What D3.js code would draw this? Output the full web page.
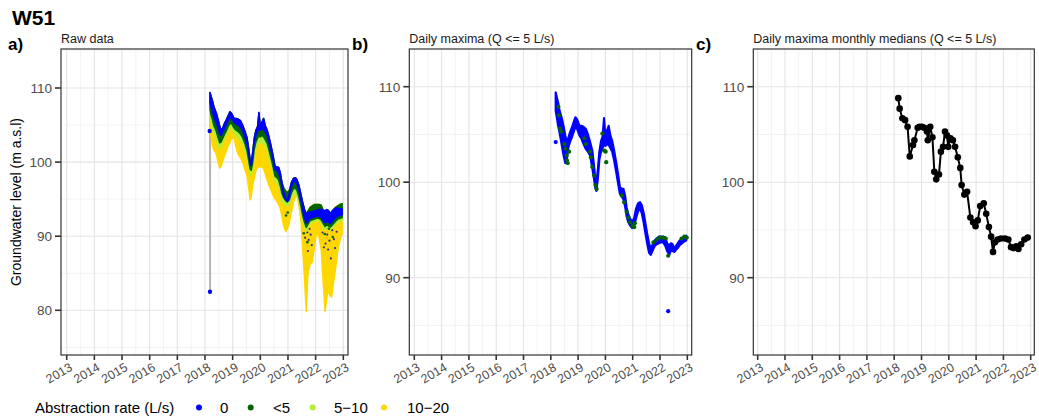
<!DOCTYPE html>
<html>
<head>
<meta charset="utf-8">
<script src="https://cdn.jsdelivr.net/npm/d3@7/dist/d3.min.js"></script>
<style>
  body { margin: 0; background: #fff; }
  svg text { font-family: "Liberation Sans", Arial, Helvetica, sans-serif; }
</style>
</head>
<body>
<svg id="chart" width="1039" height="417"></svg>
<script>
// ---------------- data ----------------
const yearTicks = [2013, 2014, 2015, 2016, 2017, 2018, 2019, 2020, 2021, 2022, 2023];
const yearTickLabels = ["2013", "2014", "2015", "2016", "2017", "2018", "2019", "2020", "2021", "2022", "2023"];
const rawLevelTicks = [80, 90, 100, 110];
const maxLevelTicks = [90, 100, 110];

// Sample times (decimal years) shared by the raw-data bands and the daily maxima
const sampleTime = [
  2018.18, 2018.22, 2018.27, 2018.32, 2018.37, 2018.42, 2018.47, 2018.53, 2018.58, 2018.64,
  2018.70, 2018.77, 2018.84, 2018.90, 2018.96, 2019.05, 2019.12, 2019.20, 2019.28, 2019.36,
  2019.44, 2019.52, 2019.58, 2019.63, 2019.67, 2019.72, 2019.78, 2019.84, 2019.90, 2019.95,
  2020.00, 2020.06, 2020.12, 2020.18, 2020.25, 2020.32, 2020.40, 2020.47, 2020.53, 2020.60,
  2020.66, 2020.72, 2020.78, 2020.84, 2020.92, 2020.98, 2021.05, 2021.12, 2021.20, 2021.27,
  2021.33, 2021.40, 2021.47, 2021.53, 2021.60, 2021.66, 2021.72, 2021.80, 2021.88, 2021.96,
  2022.04, 2022.12, 2022.20, 2022.26, 2022.34, 2022.40, 2022.46, 2022.52, 2022.58, 2022.65,
  2022.72, 2022.80, 2022.88, 2022.96
];
// Daily maxima (Q <= 5 L/s): upper and lower edge of the band of daily values
const dailyMax = [
  109.4, 108.9, 108.3, 107.5, 107.0, 106.5, 105.8, 104.9, 104.3, 104.6,
  105.2, 105.7, 106.3, 106.8, 106.6, 105.9, 105.9, 105.8, 105.6, 105.0,
  104.2, 103.3, 101.8, 100.4, 99.9, 101.2, 103.2, 104.3, 104.8, 106.7,
  104.9, 105.4, 105.9, 104.9, 104.3, 103.3, 102.0, 100.7, 99.5, 99.3,
  99.3, 98.6, 97.3, 96.6, 96.1, 95.9, 96.2, 97.2, 97.8, 97.9,
  97.6, 96.8, 95.6, 94.6, 93.6, 93.0, 93.4, 93.9, 94.1, 94.3,
  94.3, 94.3, 94.2, 93.6, 93.4, 93.6, 93.5, 93.1, 93.3, 93.6,
  93.9, 94.1, 94.3, 94.4
];
const dailyMaxLow = [
  107.5, 106.8, 105.9, 105.2, 104.4, 103.6, 102.8, 102.0, 102.3, 103.6,
  104.2, 104.7, 105.3, 105.8, 105.6, 104.9, 104.6, 104.0, 103.5, 103.2,
  102.8, 101.5, 100.4, 99.4, 99.1, 100.3, 102.4, 103.2, 103.6, 104.0,
  103.8, 104.0, 103.9, 103.6, 103.2, 102.3, 101.0, 99.8, 98.8, 98.5,
  98.2, 97.5, 96.4, 95.8, 95.4, 95.2, 95.4, 96.2, 97.0, 97.2,
  96.8, 95.8, 94.6, 93.6, 92.6, 92.4, 92.8, 93.3, 93.5, 93.6,
  93.7, 93.7, 93.3, 92.8, 92.4, 92.9, 92.8, 92.7, 92.9, 93.1,
  93.4, 93.6, 93.8, 93.9
];
// Raw data: lower edge of each abstraction-rate band (top is the daily maximum),
// and the upper edge of the "0" band
const rawBlueTop = [
  109.4, 108.9, 108.3, 107.5, 107.0, 106.5, 105.8, 104.9, 104.3, 104.6,
  105.2, 105.7, 106.3, 106.8, 106.6, 105.9, 105.9, 105.8, 105.6, 105.0,
  104.2, 103.3, 101.8, 100.4, 99.9, 101.2, 103.2, 104.3, 104.8, 106.7,
  104.9, 105.4, 105.9, 104.9, 104.3, 103.3, 102.0, 100.7, 99.5, 99.3,
  99.3, 98.6, 97.3, 96.0, 95.2, 95.0, 95.8, 97.2, 97.8, 97.9,
  97.6, 96.8, 95.6, 94.6, 93.6, 93.0, 93.2, 93.3, 93.3, 93.4,
  93.5, 93.6, 93.6, 93.6, 93.4, 93.6, 93.5, 93.1, 93.3, 93.6,
  93.8, 93.8, 93.7, 93.7
];
const rawBlueLow = [
  108.0, 107.4, 106.8, 106.1, 105.6, 105.2, 104.6, 103.8, 103.6, 104.0,
  104.5, 105.0, 105.6, 106.0, 105.9, 105.3, 105.2, 105.0, 104.7, 104.2,
  103.4, 102.4, 101.1, 99.9, 99.5, 100.7, 102.6, 103.6, 104.1, 104.6,
  104.3, 104.5, 104.4, 104.0, 103.5, 102.5, 101.3, 100.1, 99.0, 98.8,
  98.6, 97.8, 96.7, 95.6, 94.9, 94.7, 95.2, 96.6, 97.3, 97.4,
  97.0, 96.1, 94.9, 93.5, 92.4, 91.8, 92.0, 92.4, 92.5, 92.6,
  92.7, 92.7, 92.5, 92.2, 91.8, 92.0, 91.9, 91.7, 91.9, 92.2,
  92.5, 92.7, 92.8, 92.9
];
const rawGreenLow = [
  107.2, 106.3, 105.7, 104.9, 104.5, 104.0, 103.3, 102.6, 102.7, 103.2,
  103.7, 104.2, 104.8, 105.2, 105.2, 104.6, 104.3, 104.1, 103.8, 103.3,
  102.5, 101.5, 100.2, 99.1, 98.9, 99.8, 101.7, 102.7, 103.2, 103.6,
  103.4, 103.6, 103.4, 103.0, 102.5, 101.5, 100.3, 99.2, 98.1, 97.9,
  97.6, 96.8, 95.8, 95.2, 94.8, 94.6, 94.9, 95.8, 96.4, 96.5,
  96.1, 95.2, 94.0, 92.8, 91.8, 91.2, 91.6, 92.1, 92.2, 92.3,
  92.4, 92.4, 92.2, 91.8, 91.3, 91.5, 91.4, 91.2, 91.4, 91.7,
  92.0, 92.3, 92.4, 92.5
];
const rawLightLow = [
  106.6, 105.3, 104.7, 104.0, 103.6, 103.0, 102.3, 101.8, 102.1, 102.6,
  103.1, 103.6, 104.2, 104.6, 104.6, 103.9, 103.6, 103.3, 103.0, 102.5,
  101.7, 100.7, 99.4, 98.3, 98.2, 99.1, 100.9, 101.9, 102.4, 102.8,
  102.6, 102.7, 102.5, 102.1, 101.6, 100.6, 99.5, 98.4, 97.4, 97.2,
  96.8, 96.0, 95.0, 94.5, 94.2, 94.1, 94.3, 95.1, 95.7, 95.8,
  95.4, 94.5, 93.3, 92.1, 91.2, 90.6, 91.1, 91.7, 91.9, 92.0,
  92.1, 92.1, 91.8, 91.4, 90.9, 91.1, 91.0, 90.8, 91.0, 91.3,
  91.6, 91.9, 92.0, 92.1
];
const rawYellowLow = [
  105.5, 103.4, 102.2, 101.6, 101.4, 100.9, 100.0, 99.2, 99.4, 100.1,
  100.8, 101.5, 102.2, 102.6, 103.2, 103.2, 102.0, 101.0, 100.6, 100.0,
  99.0, 98.1, 96.5, 94.9, 95.3, 96.8, 97.8, 98.8, 99.2, 99.4,
  99.4, 99.3, 99.1, 98.4, 97.5, 96.8, 96.1, 95.4, 95.0, 94.7,
  94.3, 93.8, 92.6, 91.4, 90.6, 91.0, 91.8, 93.2, 94.6, 95.3,
  95.4, 94.0, 92.0, 88.5, 84.0, 79.8, 84.8, 86.2, 86.5, 88.6,
  90.6, 89.9, 88.2, 84.5, 79.8, 81.5, 82.7, 82.0, 81.8, 83.8,
  85.6, 88.0, 89.4, 90.4
];
// Scattered raw readings inside the drawdown cones
const rawBlueDotTime = [2021.62, 2021.70, 2021.72, 2021.75, 2021.78, 2021.82, 2021.86, 2022.25, 2022.30, 2022.36,
                        2022.42, 2022.45, 2022.50, 2022.55, 2022.60, 2022.66, 2022.70, 2022.76];
const rawBlueDotLevel = [89.8, 90.5, 88.0, 89.5, 91.0, 90.2, 88.8, 90.5, 88.5, 89.0,
                         90.2, 88.2, 89.4, 87.0, 90.8, 89.6, 88.4, 90.6];
const rawGreenDotTime = [2020.93, 2020.99, 2021.57, 2021.70, 2022.33, 2022.48, 2022.62];
const rawGreenDotLevel = [92.8, 93.2, 90.4, 89.2, 90.3, 91.0, 89.9];
// Isolated readings drawn separately
const rawOutlierTime = [2018.17, 2018.18];
const rawOutlierLevel = [104.2, 82.5];
const rawJumpTime = [2018.185, 2018.185, 2018.18];
const rawJumpLevel = [108.6, 82.5, 104.2];

// Daily maxima recorded while pumping at < 5 L/s
const maxGreenTime = [2018.28, 2018.30, 2018.34, 2018.37, 2018.50, 2018.54, 2018.58, 2018.59, 2018.62, 2018.67,
                      2019.23, 2019.28, 2019.44, 2019.47, 2019.52, 2019.59, 2019.64, 2019.68, 2019.89, 2019.96,
                      2020.01, 2020.03, 2020.60, 2020.69, 2020.78, 2020.84, 2020.91, 2020.99, 2021.06, 2021.08,
                      2021.76, 2021.88, 2022.00, 2022.12, 2022.21, 2022.30, 2022.79, 2022.89, 2022.98];
const maxGreenLevel = [107.9, 107.0, 105.6, 105.3, 104.0, 103.5, 102.8, 102.3, 102.0, 103.2,
                       104.6, 104.0, 103.2, 102.6, 101.6, 100.7, 99.7, 99.3, 105.1, 103.3,
                       103.2, 102.1, 98.6, 97.9, 96.9, 96.3, 95.8, 95.4, 95.3, 95.7,
                       93.7, 94.0, 94.2, 94.2, 94.1, 92.3, 94.1, 94.3, 94.2];
const maxOutlierTime = [2018.18, 2022.30];
const maxOutlierLevel = [104.2, 86.5];

// Monthly medians of the daily maxima
const medianTime = [
  2018.15, 2018.20, 2018.30, 2018.40, 2018.49, 2018.57, 2018.69, 2018.74, 2018.86, 2018.93,
  2019.02, 2019.10, 2019.20, 2019.23, 2019.32, 2019.40, 2019.47, 2019.54, 2019.64, 2019.71,
  2019.79, 2019.86, 2019.93, 2019.98, 2020.06, 2020.15, 2020.23, 2020.33, 2020.42, 2020.47,
  2020.57, 2020.67, 2020.79, 2020.89, 2020.98, 2021.06, 2021.15, 2021.28, 2021.37, 2021.47,
  2021.55, 2021.62, 2021.69, 2021.79, 2021.91, 2022.06, 2022.18, 2022.28, 2022.38, 2022.47,
  2022.55, 2022.65, 2022.77, 2022.89
];
const medianLevel = [
  108.8, 107.7, 106.7, 106.5, 105.8, 102.7, 103.9, 104.4, 105.7, 105.8,
  105.8, 105.7, 105.3, 104.4, 105.8, 104.7, 101.1, 100.3, 100.8, 103.2,
  103.7, 105.3, 104.9, 103.7, 104.6, 104.4, 103.7, 102.6, 101.5, 99.7,
  98.7, 99.0, 96.3, 95.8, 95.4, 96.0, 97.5, 97.8, 96.7, 95.3,
  94.3, 92.7, 93.7, 94.0, 94.1, 94.1, 94.0, 93.2, 93.1, 93.3,
  93.0, 93.5, 94.0, 94.2
];

// Legend
const rateLabels = ["0", "<5", "5\u221210", "10\u221220"];
const rateColors = ["#0000ff", "#006400", "#b3ee3a", "#ffd700"];

// ---------------- layout ----------------
const svg = d3.select("#chart");
const plotTop = 49, plotBottom = 355;
const panels = [
  { key: "a", left: 61,    right: 348,    x0: 66.7,  x1: 343.3,  tag: "a)", tagX: 8,   title: "Raw data",
    dom: [80, 110], rng: [310.3, 88], ticks: rawLevelTicks, minor: [75, 85, 95, 105, 115] },
  { key: "b", left: 409.3, right: 691.7,  x0: 414.3, x1: 687.3,  tag: "b)", tagX: 352, title: "Daily maxima (Q <= 5 L/s)",
    dom: [90, 110], rng: [277.7, 86.7], ticks: maxLevelTicks, minor: [85, 95, 105] },
  { key: "c", left: 753.3, right: 1034.3, x0: 757.7, x1: 1030.7, tag: "c)", tagX: 696, title: "Daily maxima monthly medians (Q <= 5 L/s)",
    dom: [90, 110], rng: [277.7, 86.7], ticks: maxLevelTicks, minor: [85, 95, 105] }
];

const axisInk = "#333333", labelInk = "#4d4d4d";

panels.forEach(p => {
  p.x = d3.scaleLinear().domain([2013, 2023]).range([p.x0, p.x1]);
  p.y = d3.scaleLinear().domain(p.dom).range(p.rng);
  const g = svg.append("g").attr("class", "panel-" + p.key);
  p.g = g;

  g.append("rect").attr("x", p.left).attr("y", plotTop)
    .attr("width", p.right - p.left).attr("height", plotBottom - plotTop).attr("fill", "#fff");

  const clipId = "clip-" + p.key;
  svg.append("clipPath").attr("id", clipId).append("rect")
    .attr("x", p.left).attr("y", plotTop).attr("width", p.right - p.left).attr("height", plotBottom - plotTop);
  p.clip = "url(#" + clipId + ")";

  const grid = g.append("g").attr("clip-path", p.clip);
  // minor grid
  const minorYears = d3.range(2013.5, 2023, 1);
  grid.selectAll(".vminor").data(minorYears).join("line")
    .attr("x1", d => p.x(d)).attr("x2", d => p.x(d)).attr("y1", plotTop).attr("y2", plotBottom)
    .attr("stroke", "#f0f0f0").attr("stroke-width", 0.8);
  grid.selectAll(".hminor").data(p.minor).join("line")
    .attr("x1", p.left).attr("x2", p.right).attr("y1", d => p.y(d)).attr("y2", d => p.y(d))
    .attr("stroke", "#f0f0f0").attr("stroke-width", 0.8);
  // major grid
  grid.selectAll(".vmajor").data(yearTicks).join("line")
    .attr("x1", d => p.x(d)).attr("x2", d => p.x(d)).attr("y1", plotTop).attr("y2", plotBottom)
    .attr("stroke", "#e3e3e3").attr("stroke-width", 1.1);
  grid.selectAll(".hmajor").data(p.ticks).join("line")
    .attr("x1", p.left).attr("x2", p.right).attr("y1", d => p.y(d)).attr("y2", d => p.y(d))
    .attr("stroke", "#e3e3e3").attr("stroke-width", 1.1);

  p.plot = g.append("g").attr("clip-path", p.clip);
});

// ---------------- panel a: raw data ----------------
(function () {
  const p = panels[0];
  const idx = d3.range(sampleTime.length);
  const band = (lo, hi) => d3.area()
    .x(i => p.x(sampleTime[i])).y0(i => p.y(lo[i])).y1(i => p.y(hi[i]));

  // grey trace connecting consecutive readings
  p.plot.append("path")
    .attr("d", d3.line().x(i => p.x(rawJumpTime[i])).y(i => p.y(rawJumpLevel[i]))(d3.range(rawJumpTime.length)))
    .attr("fill", "none").attr("stroke", "#b5b5b5").attr("stroke-width", 2);

  const layers = [
    { lo: rawYellowLow, hi: dailyMax, color: rateColors[3] },
    { lo: rawLightLow, hi: dailyMax, color: rateColors[2] },
    { lo: rawGreenLow, hi: dailyMax, color: rateColors[1] },
    { lo: rawBlueLow, hi: rawBlueTop, color: rateColors[0] }
  ];
  layers.forEach(l => {
    p.plot.append("path").attr("d", band(l.lo, l.hi)(idx))
      .attr("fill", l.color).attr("stroke", l.color).attr("stroke-width", 1.4)
      .attr("stroke-linejoin", "round");
  });

  p.plot.selectAll(".gdot").data(d3.range(rawGreenDotTime.length)).join("circle")
    .attr("cx", i => p.x(rawGreenDotTime[i])).attr("cy", i => p.y(rawGreenDotLevel[i]))
    .attr("r", 1.3).attr("fill", rateColors[1]);
  p.plot.selectAll(".bdot").data(d3.range(rawBlueDotTime.length)).join("circle")
    .attr("cx", i => p.x(rawBlueDotTime[i])).attr("cy", i => p.y(rawBlueDotLevel[i]))
    .attr("r", 1.1).attr("fill", "#3a2a9a");
  p.plot.selectAll(".odot").data(d3.range(rawOutlierTime.length)).join("circle")
    .attr("cx", i => p.x(rawOutlierTime[i])).attr("cy", i => p.y(rawOutlierLevel[i]))
    .attr("r", 2.2).attr("fill", rateColors[0]);
})();

// ---------------- panel b: daily maxima ----------------
(function () {
  const p = panels[1];
  const idx = d3.range(sampleTime.length);
  p.plot.append("path")
    .attr("d", d3.area().x(i => p.x(sampleTime[i])).y0(i => p.y(dailyMaxLow[i])).y1(i => p.y(dailyMax[i]))(idx))
    .attr("fill", rateColors[0]).attr("stroke", rateColors[0]).attr("stroke-width", 2.2)
    .attr("stroke-linejoin", "round");
  p.plot.selectAll(".gdot").data(d3.range(maxGreenTime.length)).join("circle")
    .attr("cx", i => p.x(maxGreenTime[i])).attr("cy", i => p.y(maxGreenLevel[i]))
    .attr("r", 2.1).attr("fill", rateColors[1]);
  p.plot.selectAll(".odot").data(d3.range(maxOutlierTime.length)).join("circle")
    .attr("cx", i => p.x(maxOutlierTime[i])).attr("cy", i => p.y(maxOutlierLevel[i]))
    .attr("r", 2.1).attr("fill", rateColors[0]);
})();

// ---------------- panel c: monthly medians ----------------
(function () {
  const p = panels[2];
  const idx = d3.range(medianTime.length);
  p.plot.append("path")
    .attr("d", d3.line().x(i => p.x(medianTime[i])).y(i => p.y(medianLevel[i]))(idx))
    .attr("fill", "none").attr("stroke", "#000").attr("stroke-width", 2)
    .attr("stroke-linejoin", "round");
  p.plot.selectAll(".mdot").data(idx).join("circle")
    .attr("cx", i => p.x(medianTime[i])).attr("cy", i => p.y(medianLevel[i]))
    .attr("r", 3.3).attr("fill", "#000");
})();

// ---------------- frames, axes, titles ----------------
panels.forEach(p => {
  const g = p.g;
  g.append("rect").attr("x", p.left).attr("y", plotTop)
    .attr("width", p.right - p.left).attr("height", plotBottom - plotTop)
    .attr("fill", "none").attr("stroke", axisInk).attr("stroke-width", 1.2);

  // y axis
  const ya = g.append("g");
  ya.selectAll("line").data(p.ticks).join("line")
    .attr("x1", p.left - 6).attr("x2", p.left).attr("y1", d => p.y(d)).attr("y2", d => p.y(d))
    .attr("stroke", axisInk).attr("stroke-width", 1.6);
  ya.selectAll("text").data(p.ticks).join("text")
    .attr("x", p.left - 9).attr("y", d => p.y(d)).attr("dy", "0.36em")
    .attr("text-anchor", "end").attr("font-size", 13.5).attr("fill", labelInk)
    .text(d => String(d));

  // x axis
  const xa = g.append("g");
  xa.selectAll("line").data(yearTicks).join("line")
    .attr("x1", d => p.x(d)).attr("x2", d => p.x(d)).attr("y1", plotBottom).attr("y2", plotBottom + 5)
    .attr("stroke", axisInk).attr("stroke-width", 1.6);
  xa.selectAll("text").data(d3.range(yearTicks.length)).join("text")
    .attr("transform", i => `translate(${p.x(yearTicks[i]) + 2},${plotBottom + 7}) rotate(-30)`)
    .attr("dy", "0.72em").attr("text-anchor", "end").attr("font-size", 12.5).attr("fill", labelInk)
    .text(i => yearTickLabels[i]);

  // subtitle and tag
  g.append("text").attr("x", p.left).attr("y", 43).attr("font-size", 12.5).attr("fill", "#1a1a1a")
    .text(p.title);
  g.append("text").attr("x", p.tagX).attr("y", 50).attr("font-size", 17).attr("font-weight", "bold")
    .attr("fill", "#000").text(p.tag);
});

// main title
svg.append("text").attr("x", 12).attr("y", 25).attr("font-size", 21).attr("font-weight", "bold")
  .attr("fill", "#000").text("W51");

// y axis title
svg.append("text").attr("transform", `translate(21,${(plotTop + plotBottom) / 2}) rotate(-90)`)
  .attr("text-anchor", "middle").attr("font-size", 14).attr("fill", "#000")
  .text("Groundwater level (m a.s.l)");

// legend
const legend = svg.append("g");
legend.append("text").attr("x", 35).attr("y", 413).attr("font-size", 15).attr("fill", "#000")
  .text("Abstraction rate (L/s)");
const legendDotX = [199, 250.7, 312.7, 384];
const legendLabelX = [220, 273, 334, 407];
legend.selectAll("circle").data(d3.range(rateLabels.length)).join("circle")
  .attr("cx", i => legendDotX[i]).attr("cy", 407.5).attr("r", 3).attr("fill", i => rateColors[i]);
legend.selectAll(".lab").data(d3.range(rateLabels.length)).join("text")
  .attr("x", i => legendLabelX[i]).attr("y", 413).attr("font-size", 15).attr("fill", "#000")
  .text(i => rateLabels[i]);
</script>
</body>
</html>
